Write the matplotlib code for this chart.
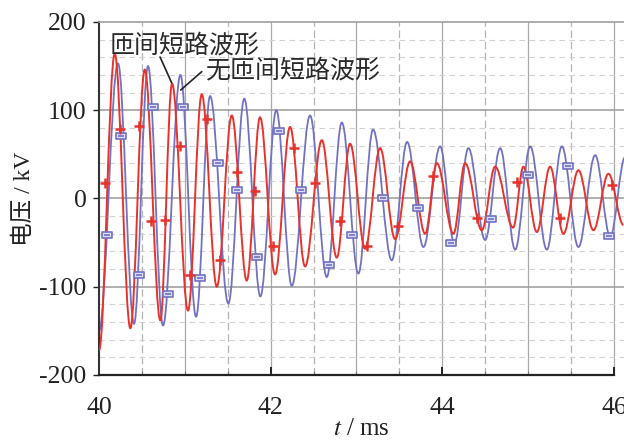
import matplotlib.pyplot as plt
import numpy as np
from matplotlib.path import Path
from matplotlib.patches import PathPatch
from matplotlib.ticker import MultipleLocator

plt.rcParams['font.family'] = ['Liberation Serif', 'Noto Sans CJK SC']
plt.rcParams['mathtext.fontset'] = 'stix'
plt.rcParams['axes.unicode_minus'] = False

# turning points of each waveform, t in ms, u in kV
red_t = [40.000, 40.183, 40.365, 40.533, 40.714, 40.851, 41.037, 41.197, 41.372, 41.547,
         41.721, 41.876, 42.051, 42.226, 42.401, 42.596, 42.770, 42.925, 43.100, 43.275,
         43.450, 43.625, 43.800, 43.936, 44.129, 44.266, 44.460, 44.615, 44.825, 44.945,
         45.101, 45.256, 45.411, 45.586, 45.761, 45.936, 46.111]
red_u = [-172, 164, -147, 146, -138, 130, -127, 118, -100, 94,
         -93, 92, -86, 81, -77, 66, -67, 62, -57, 57,
         -46, 42, -40, 40, -40, 40, -36, 36, -33, 36,
         -38, 36, -40, 32, -36, 28, -30]

blue_t = [40.000, 40.221, 40.408, 40.571, 40.746, 40.948, 41.131, 41.294, 41.507, 41.693,
          41.880, 42.066, 42.246, 42.459, 42.654, 42.829, 43.022, 43.193, 43.411, 43.590,
          43.780, 43.974, 44.141, 44.304, 44.499, 44.674, 44.849, 45.024, 45.218, 45.393,
          45.586, 45.781, 45.956, 46.131]
blue_u = [-150, 153, -142, 150, -144, 140, -134, 116, -119, 113,
          -111, 100, -99, 94, -89, 86, -85, 78, -70, 64,
          -55, 59, -51, 57, -47, 57, -58, 59, -58, 59,
          -55, 49, -43, 47]

# marker positions on the curves
red_mt = [40.073, 40.248, 40.463, 40.610, 40.766, 40.948, 41.064, 41.255, 41.410, 41.605,
          41.818, 42.031, 42.276, 42.517, 42.809, 43.120, 43.488, 43.896, 44.402, 44.868,
          45.373, 45.976]
red_mu = [17, 79, 82, -26, -24, 59, -87, 90, -70, 30,
          8, -54, 57, 17, -26, -54, -31, 25, -22, 19,
          -22, 15]
blue_mt = [40.093, 40.256, 40.460, 40.629, 40.808, 40.979, 41.177, 41.383, 41.605, 41.838,
           42.098, 42.354, 42.684, 42.945, 43.304, 43.721, 44.103, 44.569, 44.994, 45.470,
           45.944]
blue_mu = [-41, 71, -87, 104, -108, 104, -90, 40, 10, -66,
           76, 10, -75, -41, 0, -11, -50, -23, 27, 37,
           -43]

red = '#e8332d'
blue = '#7272c4'


def wave(t, u, k=0.364):
    # smooth half-swings between successive turning points
    verts = [(t[0], u[0])]
    codes = [Path.MOVETO]
    for i in range(1, len(t)):
        dt = t[i] - t[i - 1]
        verts += [(t[i - 1] + k * dt, u[i - 1]), (t[i] - k * dt, u[i]), (t[i], u[i])]
        codes += [Path.CURVE4] * 3
    return Path(verts, codes)


fig = plt.figure(figsize=(6.24, 4.41), dpi=100)
ax = fig.add_axes([0.1587, 0.1497, 0.8413, 0.8005])
ax.set_xlim(40, 46.117)
ax.set_ylim(-200, 200)

# grid
for x in np.arange(41, 46.5, 1.0):
    ax.axvline(x, color='#a8a8a8', lw=0.9, zorder=0)
for x in np.arange(40.5, 46, 1.0):
    ax.axvline(x, color='#b4b4b4', lw=0.9, ls=(0, (6, 3)), zorder=0)
for y in [-100, 0, 100]:
    ax.axhline(y, color='#9a9a9a', lw=1.1, zorder=0)
for y in np.arange(-180, 200, 20):
    if y % 100 != 0:
        ax.axhline(y, color='#d2d2d2', lw=0.8, ls=(0, (5, 4)), zorder=0)

ax.add_patch(PathPatch(wave(blue_t, blue_u), fill=False, edgecolor=blue, lw=1.3, zorder=2))
ax.add_patch(PathPatch(wave(red_t, red_u), fill=False, edgecolor=red, lw=1.4, zorder=3))

box = Path([(-1, -0.6), (1, -0.6), (1, 0.6), (-1, 0.6), (-1, -0.6), (-0.6, 0), (0.6, 0)],
           [Path.MOVETO, Path.LINETO, Path.LINETO, Path.LINETO, Path.CLOSEPOLY,
            Path.MOVETO, Path.LINETO])
ax.plot(blue_mt, blue_mu, ls='none', marker=box, ms=7, mfc='#dcdcf2', mec=blue, mew=1.2, zorder=4)
ax.plot(red_mt, red_mu, ls='none', marker='+', ms=6.5, mec=red, mew=1.8, zorder=5)

# labels of the two curves
ax.text(40.128, 173, '匝间短路波形', fontsize=18, family='Noto Sans CJK SC', color='#2a2a2a',
        ha='left', va='center', zorder=6)
ax.text(41.235, 144, '无匝间短路波形', fontsize=18, family='Noto Sans CJK SC', color='#2a2a2a',
        ha='left', va='center', zorder=6)
ax.annotate('', xy=(40.847, 130.9), xytext=(40.711, 160.3),
            arrowprops=dict(arrowstyle='-', color='#222222', lw=1.2, shrinkA=0, shrinkB=0))
ax.annotate('', xy=(40.952, 122.9), xytext=(41.197, 143.7),
            arrowprops=dict(arrowstyle='-', color='#222222', lw=1.2, shrinkA=0, shrinkB=0))

ax.set_xticks([40, 42, 44, 46])
ax.xaxis.set_minor_locator(MultipleLocator(0.5))
ax.set_yticks([-200, -100, 0, 100, 200])
ax.tick_params(axis='x', which='major', direction='in', length=6, width=1.4, pad=16,
               labelsize=18.5, colors='#222222')
ax.tick_params(axis='x', which='minor', direction='in', length=3, width=0.8, color='#777777')
ax.tick_params(axis='y', direction='out', length=4, width=1, pad=5, labelsize=18.5,
               colors='#222222')

ax.spines['right'].set_visible(False)
ax.spines['top'].set_color('#a0a0a0')
ax.spines['top'].set_linewidth(1.2)
ax.spines['left'].set_color('#333333')
ax.spines['left'].set_linewidth(1.5)
ax.spines['bottom'].set_color('#222222')
ax.spines['bottom'].set_linewidth(1.6)
ax.spines['bottom'].set_bounds(40, 46)

ax.set_xlabel('$t$ / ms', fontsize=18, labelpad=-1, color='#222222')
ax.set_ylabel('电压 / kV', fontsize=17, labelpad=3, color='#222222')

fig.savefig('out.png', dpi=100)
